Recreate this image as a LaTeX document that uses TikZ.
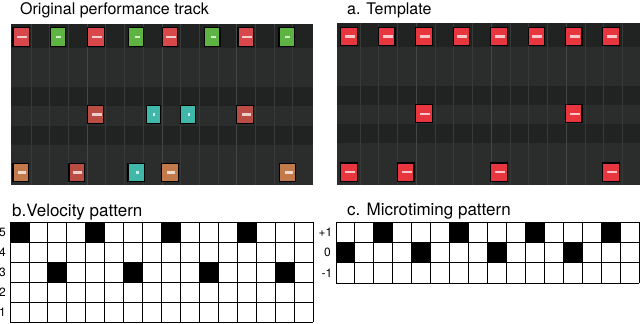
\documentclass[tikz,border=0pt]{standalone}
\usepackage{fontspec}
\setmainfont{TeX Gyre Heros}
\definecolor{panelbg}{HTML}{2B2C2C}
\definecolor{paneldark}{HTML}{212222}
\definecolor{gridl}{HTML}{383939}
\definecolor{gridm}{HTML}{444545}
\definecolor{nred}{HTML}{D8484A}
\definecolor{ngreen}{HTML}{5DB443}
\definecolor{nteal}{HTML}{3FB8AA}
\definecolor{nbrown}{HTML}{C27A4B}
\definecolor{nrbrown}{HTML}{B94D43}
\definecolor{tred}{HTML}{E8363F}
\tikzset{
  notebox/.style={rectangle, draw=black, line width=1.2pt, inner sep=0pt, outer sep=0pt, minimum height=18.3pt},
  titletext/.style={anchor=base west, inner sep=0pt, font=\fontsize{16}{18}\selectfont},
  subtitletext/.style={anchor=base west, inner sep=0pt, font=\fontsize{17}{19}\selectfont},
  rowlabel/.style={anchor=east, inner sep=0pt, font=\fontsize{12}{14}\selectfont},
  cellline/.style={black, line width=0.9pt},
}
% name, x-centre, y-centre, width, colour, dash width
\newcommand\mynote[6]{%
  \node[notebox, fill=#5, minimum width=#4] (#1) at (#2,#3) {};
  \fill[white!72!#5] ({#2+1-#6/2},{#3-1.2}) rectangle ++(#6,2.4);
}
\begin{document}
\begin{tikzpicture}[x=1pt, y=-1pt]
\useasboundingbox (0,0) rectangle (640,324);

% ---------- titles ----------
\node[titletext] (t1) at (20,14) {Original performance track};
\node[titletext] (t2) at (347,14) {a. Template};
\node[subtitletext] (t3) at (12,216) {b.Velocity pattern};
\node[subtitletext] (t4) at (347,215) {c. Microtiming pattern};

% ---------- left piano roll ----------
\fill[panelbg] (11,24) rectangle (313,185);
\fill[paneldark] (11,24) rectangle (313,48.3);
\fill[paneldark] (11,86.9) rectangle (313,106.2);
\fill[paneldark] (11,125.5) rectangle (313,144.8);
\foreach \k in {1,...,15} {
  \draw[gridl, line width=0.8pt] ({12.3+18.7*\k},24) -- ({12.3+18.7*\k},185);
}
\foreach \k in {4,8,12} {
  \draw[gridm, line width=0.8pt] ({12.3+18.7*\k},24) -- ({12.3+18.7*\k},185);
}

% row 0
\mynote{o1}{21.15}{37}{16.5}{nred}{10}
\mynote{o2}{57.85}{37}{15.5}{ngreen}{5}
\mynote{o3}{95.85}{37}{17}{nred}{10}
\mynote{o4}{136.15}{37}{15}{ngreen}{5}
\mynote{o5}{170}{37}{15.5}{nred}{10}
\mynote{o6}{212.3}{37}{15.5}{ngreen}{5}
\mynote{o7}{245.7}{37}{15.5}{nred}{10}
\mynote{o8}{286.7}{37}{15.5}{ngreen}{5}
% row 4
\mynote{o9}{95.5}{114.5}{16.4}{nrbrown}{10}
\mynote{o10}{153.2}{114.5}{13.8}{nteal}{2.5}
\mynote{o11}{188}{114.5}{14.8}{nteal}{2}
\mynote{o12}{245.2}{114.5}{17}{nrbrown}{9}
% row 7
\mynote{o13}{20.8}{172.3}{15.8}{nbrown}{8}
\mynote{o14}{76.7}{172.3}{15.5}{nrbrown}{9}
\mynote{o15}{136.2}{172.3}{16.4}{nteal}{3}
\mynote{o16}{170.2}{172.3}{17}{nbrown}{8}
\mynote{o17}{287.5}{172.3}{15.8}{nbrown}{8}

% ---------- right piano roll (template) ----------
\fill[panelbg] (336.7,22.7) rectangle (640,185);
\fill[paneldark] (336.7,22.7) rectangle (640,47);
\fill[paneldark] (336.7,86) rectangle (640,104.5);
\fill[paneldark] (336.7,124) rectangle (640,143.3);
\foreach \k in {1,...,16} {
  \draw[gridl, line width=0.8pt] ({341.3+18.75*\k},22.7) -- ({341.3+18.75*\k},185);
}
\foreach \k in {4,8,12} {
  \draw[gridm, line width=0.8pt] ({341.3+18.75*\k},22.7) -- ({341.3+18.75*\k},185);
}
\foreach \c [count=\i] in {348.9,386.7,424,461.3,499,536.3,573.7,611} {
  \mynote{ta\i}{\c}{36.3}{16.4}{tred}{10}
}
\mynote{tb1}{424}{113.7}{16.4}{tred}{10}
\mynote{tb2}{573.7}{113.7}{16.4}{tred}{10}
\foreach \c [count=\i] in {348.9,405.7,499,611} {
  \mynote{tc\i}{\c}{172.2}{16.4}{tred}{10}
}

% ---------- velocity pattern ----------
\foreach \c in {0,4,8,12} {
  \fill[black] ({10+18.96*\c},222.3) rectangle ++(18.96,20);
}
\foreach \c in {2,6,10,14} {
  \fill[black] ({10+18.96*\c},262.3) rectangle ++(18.96,20);
}
\foreach \k in {0,...,16} {
  \draw[cellline] ({10+18.96*\k},222.3) -- ({10+18.96*\k},322.3);
}
\foreach \r in {0,...,5} {
  \draw[cellline] (10,{222.3+20*\r}) -- (313.4,{222.3+20*\r});
}
\foreach \l [count=\i from 0] in {5,4,3,2,1} {
  \node[rowlabel] (v\l) at (6,{232.3+20*\i}) {\l};
}

% ---------- microtiming pattern ----------
\foreach \c in {2,6,10,14} {
  \fill[black] ({336+18.94*\c},222.3) rectangle ++(18.94,20.3);
}
\foreach \c in {0,4,8,12} {
  \fill[black] ({336+18.94*\c},242.6) rectangle ++(18.94,20.3);
}
\foreach \k in {0,...,16} {
  \draw[cellline] ({336+18.94*\k},222.3) -- ({336+18.94*\k},283.2);
}
\foreach \r in {0,...,3} {
  \draw[cellline] (336,{222.3+20.3*\r}) -- (639,{222.3+20.3*\r});
}
\node[rowlabel] (mp) at (332.5,232.5) {+1};
\node[rowlabel] (mz) at (331,252.8) {0};
\node[rowlabel] (mm) at (332.5,273.1) {-1};
\end{tikzpicture}
\end{document}
